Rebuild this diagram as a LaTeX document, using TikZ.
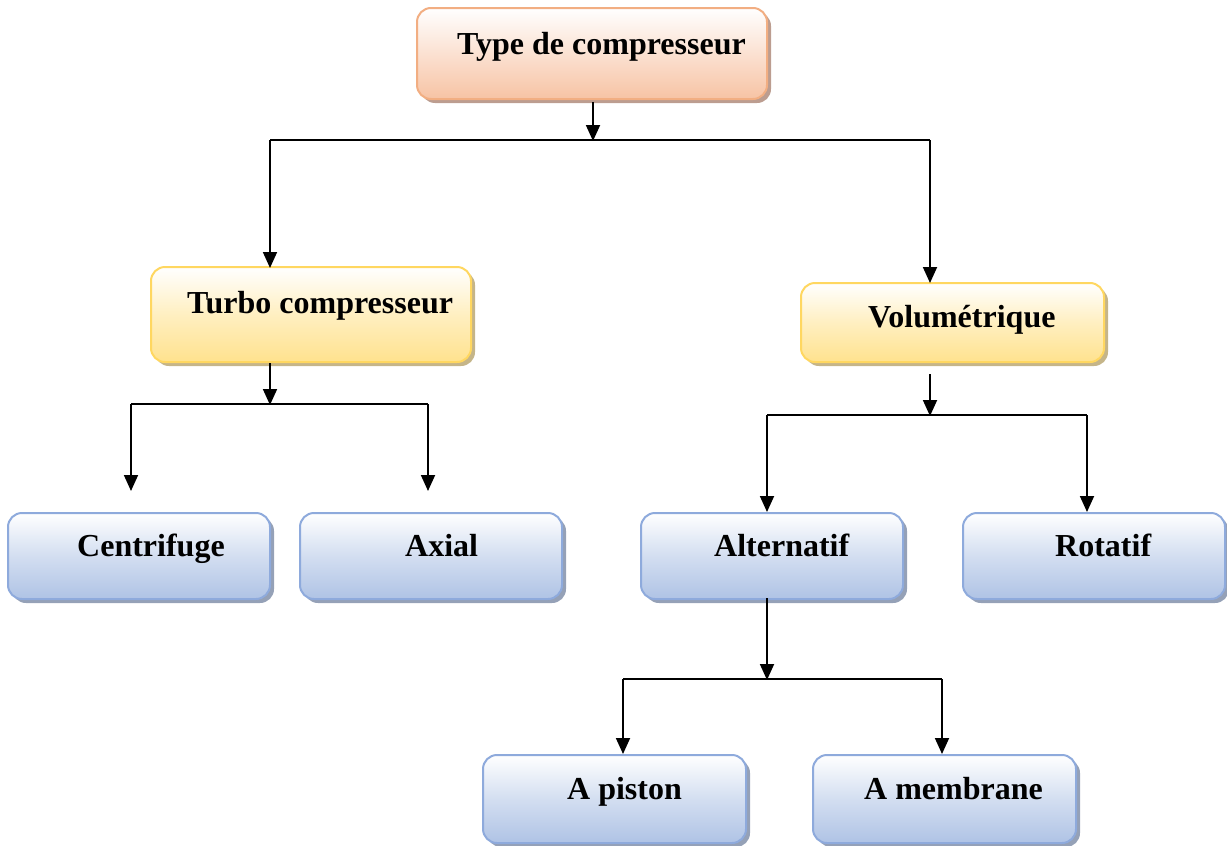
\documentclass[tikz,border=0pt]{standalone}
\usepackage{fontspec}
\setmainfont{Liberation Serif}
\usetikzlibrary{arrows.meta,shadows}

\definecolor{peachline}{HTML}{F2AE82}
\definecolor{peachfill}{HTML}{F7C3A4}
\definecolor{peachshadow}{HTML}{B08C7C}
\definecolor{goldline}{HTML}{FFD760}
\definecolor{goldfill}{HTML}{FFE28E}
\definecolor{goldshadow}{HTML}{BBA874}
\definecolor{blueline}{HTML}{8EAADC}
\definecolor{bluefill}{HTML}{AFC3E5}
\definecolor{blueshadow}{HTML}{8290AA}

\tikzset{
  box/.style={rectangle, rounded corners=14pt, line width=2pt, inner sep=0pt},
  rootbox/.style={box, draw=peachline, top color=white, bottom color=peachfill,
    middle color=peachfill!50, drop shadow={shadow xshift=4pt, shadow yshift=-4pt, fill=peachshadow, opacity=0.85}},
  groupbox/.style={box, draw=goldline, top color=white, bottom color=goldfill,
    middle color=goldfill!55, drop shadow={shadow xshift=4pt, shadow yshift=-4pt, fill=goldshadow, opacity=0.85}},
  leafbox/.style={box, draw=blueline, top color=white, bottom color=bluefill,
    middle color=bluefill!55, drop shadow={shadow xshift=4pt, shadow yshift=-4pt, fill=blueshadow, opacity=0.85}},
  lbl/.style={anchor=base west, inner sep=0pt, font=\bfseries\fontsize{32}{38}\selectfont},
  wire/.style={line width=1.8pt},
  arr/.style={wire, -{Triangle[length=16pt,width=14pt]}},
}

\begin{document}
\begin{tikzpicture}[x=1pt,y=-1pt]
\useasboundingbox (0,0) rectangle (1227,846);

% boxes
\node[rootbox, minimum width=350pt, minimum height=91pt] (root) at (592,53.5) {};
\node[groupbox, minimum width=320pt, minimum height=95pt] (turbo) at (311,314.5) {};
\node[groupbox, minimum width=303pt, minimum height=79pt] (volu) at (952.5,322.5) {};
\node[leafbox, minimum width=262pt, minimum height=86pt] (centri) at (139,556) {};
\node[leafbox, minimum width=262pt, minimum height=86pt] (axial) at (431,556) {};
\node[leafbox, minimum width=262pt, minimum height=86pt] (alter) at (772,556) {};
\node[leafbox, minimum width=262pt, minimum height=86pt] (rota) at (1094,556) {};
\node[leafbox, minimum width=263pt, minimum height=88pt] (piston) at (614.5,799) {};
\node[leafbox, minimum width=263pt, minimum height=88pt] (membr) at (944.5,799) {};

% labels
\node[lbl] (troot) at (457,54) {Type de compresseur};
\node[lbl] (tturbo) at (187,313) {Turbo compresseur};
\node[lbl] (tvolu) at (868,327) {Volumétrique};
\node[lbl] (tcentri) at (77,556) {Centrifuge};
\node[lbl] (taxial) at (405,556) {Axial};
\node[lbl] (talter) at (714,556) {Alternatif};
\node[lbl] (trota) at (1055,556) {Rotatif};
\node[lbl] (tpiston) at (567,799) {A piston};
\node[lbl] (tmembr) at (864,799) {A membrane};

% junction points
\coordinate (r0) at (593,102);
\coordinate (rj) at (593,141);
\coordinate (rl) at (270,140);
\coordinate (rr) at (930,140);
\coordinate (tl) at (270,268);
\coordinate (tr) at (930,283);

\coordinate (t0) at (270,363);
\coordinate (tj) at (270,405);
\coordinate (tjl) at (131,404);
\coordinate (tjr) at (428,404);
\coordinate (cend) at (131,491);
\coordinate (aend) at (428,491);

\coordinate (v0) at (930,374);
\coordinate (vj) at (930,416);
\coordinate (vjl) at (767,415);
\coordinate (vjr) at (1087,415);
\coordinate (alend) at (767,512);
\coordinate (roend) at (1087,512);

\coordinate (a0) at (767,598);
\coordinate (aj) at (767,680);
\coordinate (ajl) at (623,679);
\coordinate (ajr) at (942,679);
\coordinate (pend) at (623,754);
\coordinate (mend) at (942,754);

% connectors
\draw[arr] (r0) -- (rj);
\draw[wire] (rl) -- (rr);
\draw[arr] (rl) -- (tl);
\draw[arr] (rr) -- (tr);

\draw[arr] (t0) -- (tj);
\draw[wire] (tjl) -- (tjr);
\draw[arr] (tjl) -- (cend);
\draw[arr] (tjr) -- (aend);

\draw[arr] (v0) -- (vj);
\draw[wire] (vjl) -- (vjr);
\draw[arr] (vjl) -- (alend);
\draw[arr] (vjr) -- (roend);

\draw[arr] (a0) -- (aj);
\draw[wire] (ajl) -- (ajr);
\draw[arr] (ajl) -- (pend);
\draw[arr] (ajr) -- (mend);
\end{tikzpicture}
\end{document}
